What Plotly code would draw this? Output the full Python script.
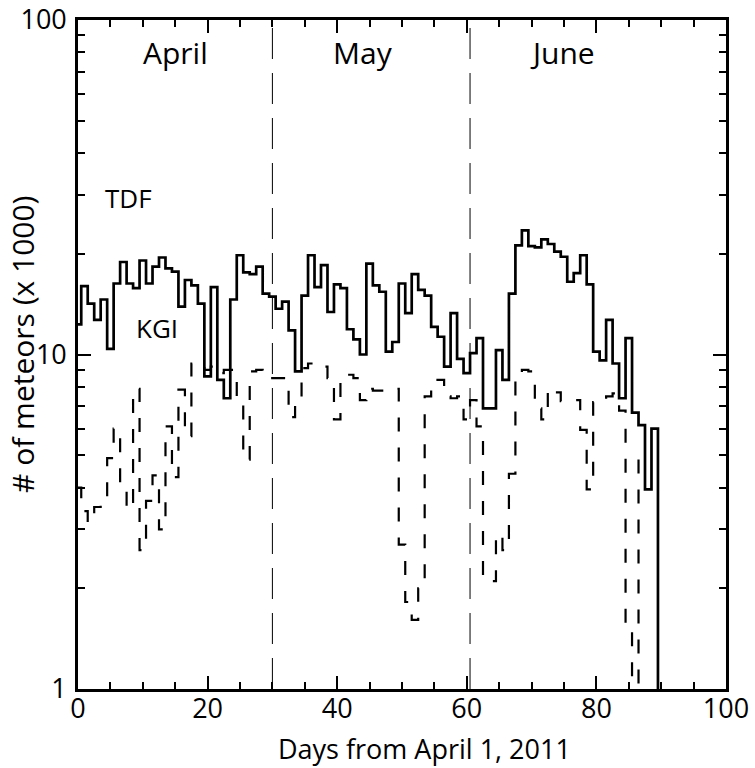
import plotly.graph_objects as go
import math

# ---- data ----
tdf_days = list(range(0, 91))
tdf_values = [12.3, 16.0, 14.2, 12.7, 14.6, 10.4, 16.3, 18.9, 16.3, 15.8,
              19.1, 16.3, 18.3, 19.5, 18.1, 17.7, 13.9, 16.7, 16.1, 14.2,
              8.6, 15.9, 8.4, 7.4, 14.6, 19.8, 17.6, 17.4, 18.3, 15.2,
              14.9, 13.7, 14.4, 11.8, 8.9, 15.0, 19.8, 15.9, 18.5, 13.4,
              16.2, 15.8, 11.9, 11.1, 10.0, 18.7, 16.1, 15.4, 10.2, 10.9,
              16.3, 13.3, 17.4, 15.6, 15.0, 12.1, 11.3, 9.2, 13.3, 9.7,
              8.8, 10.1, 11.2, 6.9, 6.9, 10.3, 8.4, 15.2, 21.2, 23.5,
              21.1, 20.9, 22.1, 21.4, 20.3, 19.6, 16.5, 17.5, 19.8, 16.2,
              10.2, 9.6, 12.7, 9.4, 7.4, 11.2, 6.7, 6.15, 3.95, 6.0,
              0.1]

kgi_days = list(range(0, 88))
kgi_values = [4.0, 3.4, 3.15, 3.5, 3.75, 4.9, 6.0, 3.9, 3.45, 7.9,
              2.6, 3.65, 4.35, 3.0, 6.1, 4.3, 7.85, 5.7, 9.4, 9.1,
              9.0, 9.2, 8.8, 9.0, 9.0, 7.4, 4.85, 8.9, 9.0, 8.5,
              8.5, 8.5, 8.5, 6.5, 7.4, 9.1, 9.4, 9.25, 9.2, 8.5,
              6.4, 8.6, 8.7, 8.5, 7.3, 7.9, 7.8, 7.8, 7.9, 7.9,
              2.7, 1.82, 1.61, 2.0, 7.5, 8.4, 8.4, 7.5, 7.4, 7.5,
              6.4, 7.3, 6.1, 2.14, 2.1, 2.9, 2.6, 4.4, 8.4, 9.0,
              8.9, 6.9, 6.4, 7.9, 7.7, 7.25, 7.25, 7.3, 5.95, 3.95,
              7.2, 7.3, 7.5, 7.65, 6.8, 1.52, 0.5, 4.9]

month_names = ["April", "May", "June"]
month_label_x = [15, 44, 74.8]
month_label_y = 80
month_boundaries = [30, 60.5]

series_labels = ["TDF", "KGI"]
series_label_x = [7.8, 12.2]
series_label_y = [29.3, 12.0]

x_tickvals = [0, 20, 40, 60, 80, 100]
x_minor = [v for v in range(5, 100, 5) if v % 20 != 0]
y_tickvals = [1, 10, 100]
y_ticktext = ["1", "10", "100"]
y_minor = [2, 3, 4, 5, 6, 7, 8, 9, 20, 30, 40, 50, 60, 70, 80, 90]

x_title = "Days from April 1, 2011"
y_title = "# of meteors (x 1000)"

FONT = "Open Sans"
L, R, T, B = 78, 29, 20, 79
W, H = 755, 768
PW, PH = W - L - R, H - T - B

fig = go.Figure()
fig.add_trace(go.Scatter(x=tdf_days, y=tdf_values, mode="lines",
                         line=dict(color="black", width=2.7, shape="hvh"),
                         showlegend=False, hoverinfo="skip"))
fig.add_trace(go.Scatter(x=kgi_days, y=kgi_values, mode="lines",
                         line=dict(color="black", width=2.2, shape="hvh", dash="14px,16px"),
                         showlegend=False, hoverinfo="skip"))

for xb in month_boundaries:
    fig.add_shape(type="line", xref="x", yref="paper", x0=xb, x1=xb, y0=0, y1=1,
                  line=dict(color="black", width=1, dash="31px,14px"))

annots = []
for name, xm in zip(month_names, month_label_x):
    annots.append(dict(x=xm, y=math.log10(month_label_y), xref="x", yref="y", text=name,
                       showarrow=False, font=dict(family=FONT, size=30, color="black")))
for name, xs, ys in zip(series_labels, series_label_x, series_label_y):
    annots.append(dict(x=xs, y=math.log10(ys), xref="x", yref="y", text=name,
                       showarrow=False, font=dict(family=FONT, size=26, color="black")))
# axis titles
annots.append(dict(x=(424 - L) / PW, y=(H - B - 748) / PH, xref="paper", yref="paper",
                   text=x_title, showarrow=False, xanchor="center", yanchor="middle",
                   font=dict(family=FONT, size=27, color="black")))
annots.append(dict(x=(22 - L) / PW, y=(H - B - 345) / PH, xref="paper", yref="paper",
                   text=y_title, showarrow=False, xanchor="center", yanchor="middle", textangle=-90,
                   font=dict(family=FONT, size=30, color="black")))

axis_common = dict(showline=True, linecolor="black", linewidth=2.6, mirror="allticks",
                   ticks="inside", ticklen=13, tickwidth=2.2, tickcolor="black",
                   showgrid=False, zeroline=False, automargin=False,
                   tickfont=dict(family=FONT, size=27, color="black"))

fig.update_layout(
    width=W, height=H,
    margin=dict(l=L, r=R, t=T, b=B),
    paper_bgcolor="white", plot_bgcolor="white",
    annotations=annots,
    xaxis=dict(range=[0, 100], tickmode="array", tickvals=x_tickvals, ticklabelstandoff=-6,
               minor=dict(tickmode="array", tickvals=x_minor, ticks="inside", ticklen=7,
                          tickwidth=2.2, tickcolor="black", showgrid=False),
               **axis_common),
    yaxis=dict(type="log", range=[0, 2], tickmode="array", tickvals=y_tickvals, ticktext=y_ticktext,
               ticklabelstandoff=3,
               minor=dict(tickmode="array", tickvals=y_minor, ticks="inside", ticklen=7,
                          tickwidth=2.2, tickcolor="black", showgrid=False),
               **axis_common),
)

fig.write_html("out.html")
